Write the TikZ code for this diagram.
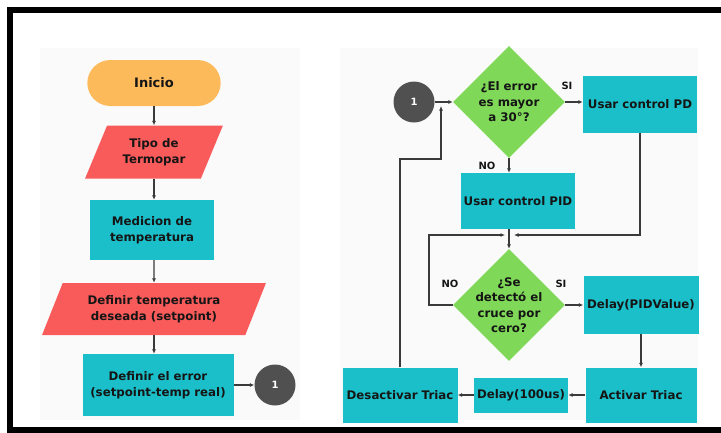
\documentclass[tikz,border=0pt]{standalone}
\usepackage{fontspec}
\setmainfont{DejaVu Sans}
\usepackage{tikz}
\usetikzlibrary{positioning,calc,arrows.meta}
\usetikzlibrary{shapes.geometric,shapes.misc}

\definecolor{inicioorange}{HTML}{FDBA5B}
\definecolor{iored}{HTML}{F95B5B}
\definecolor{proteal}{HTML}{1BBFC9}
\definecolor{decgreen}{HTML}{7FD858}
\definecolor{congray}{HTML}{505050}
\definecolor{linegray}{HTML}{3A3A3A}
\definecolor{txtdark}{HTML}{151515}
\definecolor{panelgray}{HTML}{FAFAFA}

\tikzset{
  txt/.style={font=\fontsize{11.8}{16.5}\selectfont\bfseries, text=txtdark, align=center},
  startbox/.style={txt, font=\fontsize{13}{16}\selectfont\bfseries, rounded rectangle, fill=inicioorange, minimum width=140pt, minimum height=46pt},
  iobox/.style={txt, trapezium, trapezium left angle=63, trapezium right angle=117, trapezium stretches=true, fill=iored, inner sep=1pt},
  procbox/.style={txt, rectangle, fill=proteal, inner sep=1pt},
  decision/.style={txt, font=\fontsize{11.8}{15.5}\selectfont\bfseries, diamond, aspect=1, fill=decgreen, minimum width=112pt, minimum height=112pt, inner sep=-7pt},
  connector/.style={circle, fill=congray, text=white, font=\fontsize{10}{11}\selectfont\bfseries, minimum size=41pt, inner sep=0pt},
  flowlabel/.style={font=\fontsize{10}{12}\selectfont\bfseries, text=txtdark},
  arrow/.style={-{Latex[length=4.5pt,width=4pt]}, line width=1.3pt, linegray}
}

\begin{document}
\begin{tikzpicture}[x=1pt,y=-1pt]
\useasboundingbox (0,0) rectangle (721,432);

%panels and frame
\fill[white] (0,0) rectangle (721,432);
\fill[panelgray] (40,48) rectangle (300,420);
\fill[panelgray] (340,48) rectangle (698,420);
\draw[line width=5.5pt] (721,10) -- (10,10) -- (10,430) -- (721,430);

%left column
\node[startbox] (inicio) at (154,83) {Inicio};
\node[iobox, minimum width=139pt, minimum height=53pt] (tipo) at (154,152) {Tipo de\\Termopar};
\node[procbox, minimum width=124pt, minimum height=60pt] (medicion) at (152,230) {Medicion de\\temperatura};
\node[iobox, minimum width=224pt, minimum height=52pt] (setpoint) at (154,309) {Definir temperatura\\deseada (setpoint)};
\node[procbox, minimum width=151pt, minimum height=62pt] (error) at (158,385) {Definir el error\\(setpoint-temp real)};
\node[connector] (conA) at (275,385) {1};

%right column
\node[connector] (conB) at (414,102) {1};
\node[decision] (errq) at (509,102) {¿El error\\es mayor\\a 30°?};
\node[procbox, minimum width=114pt, minimum height=57pt] (pd) at (640,104) {Usar control PD};
\node[procbox, minimum width=114pt, minimum height=56pt] (pid) at (518,201) {Usar control PID};
\node[decision] (cruce) at (509,305) {¿Se\\detectó el\\cruce por\\cero?};
\node[procbox, minimum width=115pt, minimum height=58pt] (delaypid) at (641,305) {Delay(PIDValue)};
\node[procbox, minimum width=111pt, minimum height=55pt] (activar) at (641,395) {Activar Triac};
\node[procbox, minimum width=94pt, minimum height=35pt] (delayus) at (521,395) {Delay(100us)};
\node[procbox, minimum width=115pt, minimum height=55pt] (desact) at (400,395) {Desactivar Triac};

%branch labels
\node[flowlabel] (siA) at (567,86) {SI};
\node[flowlabel] (noA) at (487,166) {NO};
\node[flowlabel] (noB) at (450,284) {NO};
\node[flowlabel] (siB) at (561,284) {SI};

%helper points
\coordinate (loopturn) at (441,159);
\coordinate (loopin) at (441,106);
\coordinate (noturn) at (429,235);
\coordinate (mergeL) at (505,235);
\coordinate (mergeR) at (514,235);

%left arrows
\draw[arrow] (inicio.south) -- (inicio.south |- tipo.north);
\draw[arrow] (tipo.south) -- (tipo.south |- medicion.north);
\draw[arrow] (medicion.south -| setpoint) -- (setpoint.north);
\draw[arrow] (setpoint.south) -- (setpoint.south |- error.north);
\draw[arrow] (error) -- (conA);

%right arrows
\draw[arrow] (conB) -- (errq);
\draw[arrow] (errq.east) -- (errq.east -| pd.west);
\draw[arrow] (errq.south) -- (errq.south |- pid.north);
\draw[arrow] (pd.south) |- (mergeR);
\draw[arrow] (pid.south -| cruce.north) -- (cruce.north);
\draw[arrow] (cruce.west) -| (noturn) -- (mergeL);
\draw[arrow] (cruce) -- (delaypid);
\draw[arrow] (delaypid) -- (activar);
\draw[arrow] (activar) -- (delayus);
\draw[arrow] (delayus) -- (desact);
\draw[arrow] (desact.north) |- (loopturn) -- (loopin);
\end{tikzpicture}
\end{document}
